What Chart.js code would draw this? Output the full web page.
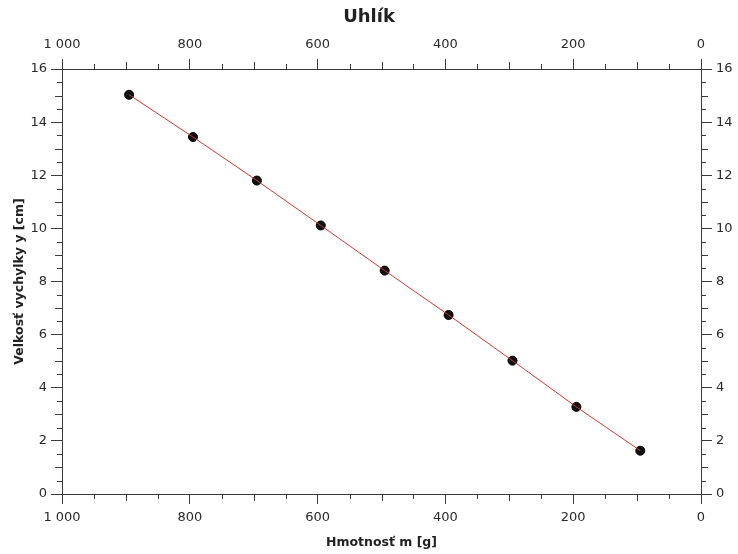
<!DOCTYPE html>
<html lang="sk">
<head>
    <meta charset="UTF-8">
    <title>Uhlík</title>
    <script src="https://cdn.jsdelivr.net/npm/chart.js"></script>
    <style>
        body { margin: 0; background: #fff; }
        canvas { display: block; }
    </style>
</head>
<body>
    <canvas id="graf-uhlik" width="738" height="554"></canvas>

<script>
    // namerane hodnoty (odcitane z grafu)
    const hmotnost = [895, 795, 695, 595, 495, 395, 295, 195, 95];
    const vychylka = [15.03, 13.44, 11.80, 10.11, 8.41, 6.74, 5.02, 3.28, 1.63];

    const xRozsah = [0, 1000];
    const yRozsah = [0, 16];

    const farbaOs = '#3a3a3a';
    const pismo = 'DejaVu Sans';

    const body = hmotnost.map((m, i) => ({ x: m, y: vychylka[i] }));

    function formatCislo(v) {
        return String(v).replace(/\B(?=(\d{3})+(?!\d))/g, ' ');
    }

    // vedlajsie ciarky na osiach
    const mensieCiarky = {
        id: 'mensieCiarky',
        afterDraw(chart) {
            const ctx = chart.ctx;
            ctx.save();
            ctx.strokeStyle = farbaOs;
            ctx.lineWidth = 1;

            ['x', 'x2'].forEach(id => {
                const s = chart.scales[id];
                const hore = s.position === 'top';
                const okraj = hore ? s.bottom : s.top;
                const smer = hore ? -1 : 1;
                for (let v = xRozsah[0]; v <= xRozsah[1]; v += 50) {
                    if (v % 200 === 0) continue;
                    const dlzka = v % 100 === 0 ? 7 : 5;
                    const px = Math.round(s.getPixelForValue(v)) + 0.5;
                    ctx.beginPath();
                    ctx.moveTo(px, okraj);
                    ctx.lineTo(px, okraj + smer * dlzka);
                    ctx.stroke();
                }
            });

            ['y', 'y2'].forEach(id => {
                const s = chart.scales[id];
                const vlavo = s.position === 'left';
                const okraj = vlavo ? s.right : s.left;
                const smer = vlavo ? -1 : 1;
                for (let i = yRozsah[0] * 2; i <= yRozsah[1] * 2; i++) {
                    if (i % 4 === 0) continue;
                    const dlzka = i % 2 === 0 ? 7 : 5;
                    const py = Math.round(s.getPixelForValue(i / 2)) + 0.5;
                    ctx.beginPath();
                    ctx.moveTo(okraj, py);
                    ctx.lineTo(okraj + smer * dlzka, py);
                    ctx.stroke();
                }
            });
            ctx.restore();
        }
    };

    Chart.defaults.font.family = pismo;
    Chart.defaults.font.size = 13;
    Chart.defaults.color = '#2a2a2a';

    function osX(poloha, vyska, titulok, odsadenie) {
        return {
            type: 'linear',
            position: poloha,
            reverse: true,
            min: xRozsah[0],
            max: xRozsah[1],
            border: { display: true, color: farbaOs, width: 1 },
            grid: { drawOnChartArea: false, color: farbaOs, tickLength: 10, tickColor: farbaOs },
            ticks: { stepSize: 200, padding: odsadenie, maxRotation: 0, callback: v => formatCislo(v) },
            title: titulok ? {
                display: true, text: titulok, color: '#222',
                font: { weight: 'bold', size: 12.5 }, padding: { top: 4, bottom: 4 }
            } : { display: false },
            afterFit: s => { s.height = vyska; }
        };
    }

    function osY(poloha, sirka, titulok) {
        return {
            type: 'linear',
            position: poloha,
            min: yRozsah[0],
            max: yRozsah[1],
            border: { display: true, color: farbaOs, width: 1 },
            grid: { drawOnChartArea: false, color: farbaOs, tickLength: 11, tickColor: farbaOs },
            ticks: { stepSize: 2, padding: 4 },
            title: titulok ? {
                display: true, text: titulok, color: '#222',
                font: { weight: 'bold', size: 12.5 }, padding: { top: 12, bottom: 0 }
            } : { display: false },
            afterFit: s => { s.width = sirka; }
        };
    }

    new Chart(document.getElementById('graf-uhlik'), {
        type: 'scatter',
        data: {
            datasets: [
                {
                    label: 'priamka',
                    data: body,
                    showLine: true,
                    borderColor: '#c8392e',
                    borderWidth: 1,
                    pointRadius: 0,
                    order: 0,
                    xAxisID: 'x',
                    yAxisID: 'y'
                },
                {
                    label: 'merania',
                    data: body,
                    pointRadius: 4.5,
                    pointBackgroundColor: '#111',
                    pointBorderColor: '#000',
                    pointBorderWidth: 1,
                    order: 1,
                    xAxisID: 'x',
                    yAxisID: 'y'
                }
            ]
        },
        options: {
            responsive: false,
            animation: false,
            layout: { padding: 0 },
            plugins: {
                legend: { display: false },
                tooltip: { enabled: false },
                title: {
                    display: true,
                    text: 'Uhlík',
                    color: '#222',
                    font: { size: 18, weight: 'bold' },
                    padding: { top: 7, bottom: 3 }
                }
            },
            scales: {
                x: osX('bottom', 60, 'Hmotnosť m [g]', 6),
                x2: osX('top', 37.4, null, 7),
                y: osY('left', 62, 'Velkosť vychylky y [cm]'),
                y2: osY('right', 37, null)
            }
        },
        plugins: [mensieCiarky]
    });
</script>
</body>
</html>
